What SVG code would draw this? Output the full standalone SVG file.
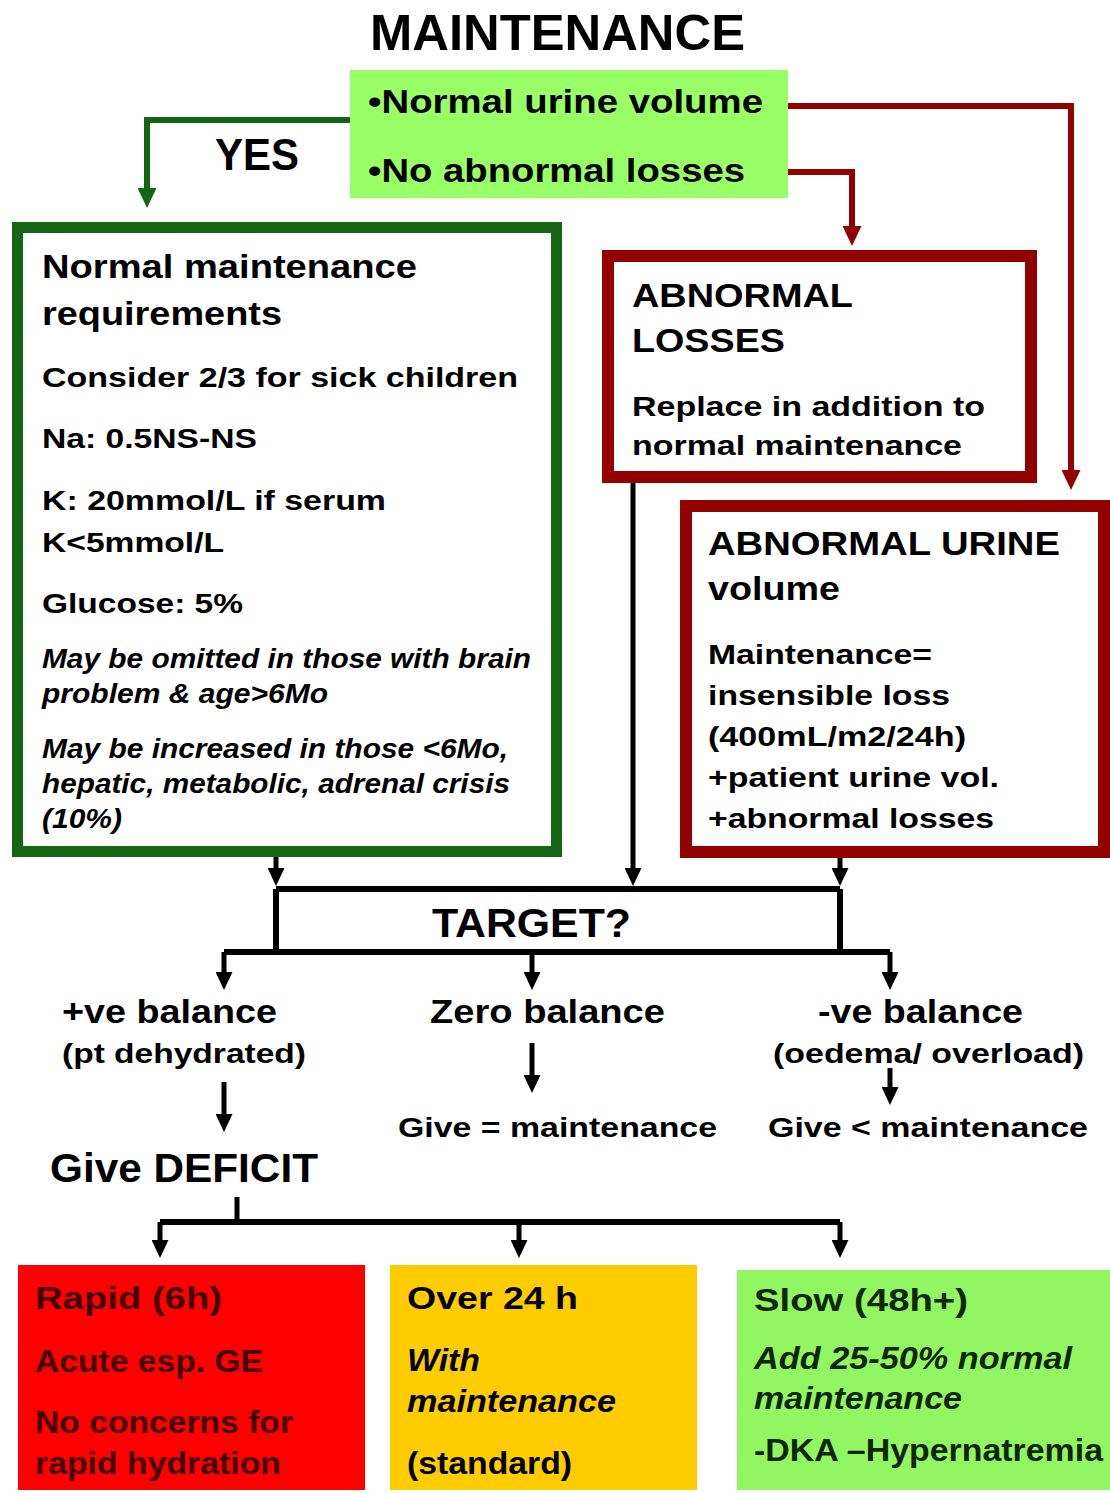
<svg xmlns="http://www.w3.org/2000/svg" width="1110" height="1493" viewBox="0 0 1110 1493">
<style>
text{font-family:"Liberation Sans",Arial,sans-serif;font-weight:bold;fill:#000}
.it{font-style:italic}
.t50{font-size:50px}.t44{font-size:44px}.t40{font-size:40px}.t34{font-size:34px}.t33{font-size:33px}.t32{font-size:32px}.t28{font-size:28px}.t27{font-size:27px}
.k{stroke:#000;stroke-width:5;fill:none}
.kb{stroke:#000;stroke-width:6;fill:none}
.g{stroke:#146614;stroke-width:6;fill:none}
.r{stroke:#930000;stroke-width:6;fill:none}
.rt{fill:#420000}
.gt{fill:#0d2600}
</style>
<defs>
<marker id="ak" viewBox="0 0 18 17" refX="2" refY="8.5" markerWidth="18" markerHeight="17" markerUnits="userSpaceOnUse" orient="auto"><path d="M0,0 L18,8.5 L0,17 z" fill="#000"/></marker>
<marker id="ag" viewBox="0 0 20 19" refX="2" refY="9.5" markerWidth="20" markerHeight="19" markerUnits="userSpaceOnUse" orient="auto"><path d="M0,0 L20,9.5 L0,19 z" fill="#146614"/></marker>
<marker id="ar" viewBox="0 0 20 19" refX="2" refY="9.5" markerWidth="20" markerHeight="19" markerUnits="userSpaceOnUse" orient="auto"><path d="M0,0 L20,9.5 L0,19 z" fill="#930000"/></marker>
</defs>
<rect width="1110" height="1493" fill="#fff"/>

<g id="title"><text class="t50" x="370" y="50" textLength="375" lengthAdjust="spacingAndGlyphs">MAINTENANCE</text></g>

<g id="connectors">
<path class="g" d="M352,120 H147 V190" marker-end="url(#ag)"/>
<path class="r" d="M788,106 H1071 V472" marker-end="url(#ar)"/>
<path class="r" d="M788,172 H852 V228" marker-end="url(#ar)"/>
<path class="k" d="M276,857 V870" marker-end="url(#ak)"/>
<path class="k" d="M633,483 V870" marker-end="url(#ak)"/>
<path class="k" d="M840,857 V870" marker-end="url(#ak)"/>
<path class="kb" d="M276,889 H840 M276,889 V952 M840,889 V952 M224,952 H890"/>
<path class="k" d="M224,952 V974" marker-end="url(#ak)"/>
<path class="k" d="M532,952 V974" marker-end="url(#ak)"/>
<path class="k" d="M890,952 V974" marker-end="url(#ak)"/>
<path class="k" d="M224,1082 V1116" marker-end="url(#ak)"/>
<path class="k" d="M532,1043 V1077" marker-end="url(#ak)"/>
<path class="k" d="M890,1068 V1089" marker-end="url(#ak)"/>
<path class="k" d="M237,1197 V1222"/>
<path class="kb" d="M160,1222 H840"/>
<path class="k" d="M160,1222 V1242" marker-end="url(#ak)"/>
<path class="k" d="M519,1222 V1242" marker-end="url(#ak)"/>
<path class="k" d="M840,1222 V1242" marker-end="url(#ak)"/>
<text class="t44" x="215" y="170" textLength="84" lengthAdjust="spacingAndGlyphs">YES</text>
<text class="t40" x="432" y="937" textLength="199" lengthAdjust="spacingAndGlyphs">TARGET?</text>
</g>

<g id="maintenance-check">
<rect x="350" y="70" width="438" height="128" fill="#99FF66"/>
<text class="t34" x="368" y="113" textLength="395" lengthAdjust="spacingAndGlyphs">•Normal urine volume</text>
<text class="t34" x="368" y="182" textLength="377" lengthAdjust="spacingAndGlyphs">•No abnormal losses</text>
</g>

<g id="normal-maintenance">
<rect x="17.5" y="227.5" width="539" height="624" fill="#fff" stroke="#146614" stroke-width="11"/>
<text class="t33" x="42" y="278" textLength="375" lengthAdjust="spacingAndGlyphs">Normal maintenance</text>
<text class="t33" x="42" y="325" textLength="240" lengthAdjust="spacingAndGlyphs">requirements</text>
<text class="t28" x="42" y="387" textLength="476" lengthAdjust="spacingAndGlyphs">Consider 2/3 for sick children</text>
<text class="t28" x="42" y="448" textLength="215" lengthAdjust="spacingAndGlyphs">Na: 0.5NS-NS</text>
<text class="t28" x="42" y="510" textLength="344" lengthAdjust="spacingAndGlyphs">K: 20mmol/L if serum</text>
<text class="t28" x="42" y="552" textLength="182" lengthAdjust="spacingAndGlyphs">K&lt;5mmol/L</text>
<text class="t28" x="42" y="613" textLength="201" lengthAdjust="spacingAndGlyphs">Glucose: 5%</text>
<text class="t27 it" x="42" y="668" textLength="489" lengthAdjust="spacingAndGlyphs">May be omitted in those with brain</text>
<text class="t27 it" x="42" y="703" textLength="286" lengthAdjust="spacingAndGlyphs">problem &amp; age&gt;6Mo</text>
<text class="t27 it" x="42" y="758" textLength="466" lengthAdjust="spacingAndGlyphs">May be increased in those &lt;6Mo,</text>
<text class="t27 it" x="42" y="793" textLength="468" lengthAdjust="spacingAndGlyphs">hepatic, metabolic, adrenal crisis</text>
<text class="t27 it" x="42" y="828" textLength="80" lengthAdjust="spacingAndGlyphs">(10%)</text>
</g>

<g id="abnormal-losses">
<rect x="608" y="256" width="423" height="221" fill="#fff" stroke="#930000" stroke-width="12"/>
<text class="t33" x="632" y="307" textLength="221" lengthAdjust="spacingAndGlyphs">ABNORMAL</text>
<text class="t33" x="632" y="352" textLength="153" lengthAdjust="spacingAndGlyphs">LOSSES</text>
<text class="t28" x="632" y="416" textLength="353" lengthAdjust="spacingAndGlyphs">Replace in addition to</text>
<text class="t28" x="632" y="455" textLength="330" lengthAdjust="spacingAndGlyphs">normal maintenance</text>
</g>

<g id="abnormal-urine">
<rect x="686" y="506" width="418" height="346" fill="#fff" stroke="#930000" stroke-width="12"/>
<text class="t33" x="708" y="555" textLength="352" lengthAdjust="spacingAndGlyphs">ABNORMAL URINE</text>
<text class="t33" x="708" y="600" textLength="132" lengthAdjust="spacingAndGlyphs">volume</text>
<text class="t28" x="708" y="664" textLength="224" lengthAdjust="spacingAndGlyphs">Maintenance=</text>
<text class="t28" x="708" y="705" textLength="242" lengthAdjust="spacingAndGlyphs">insensible loss</text>
<text class="t28" x="708" y="746" textLength="258" lengthAdjust="spacingAndGlyphs">(400mL/m2/24h)</text>
<text class="t28" x="708" y="787" textLength="291" lengthAdjust="spacingAndGlyphs">+patient urine vol.</text>
<text class="t28" x="708" y="828" textLength="286" lengthAdjust="spacingAndGlyphs">+abnormal losses</text>
</g>

<g id="positive-balance">
<text class="t34" x="62" y="1023" textLength="215" lengthAdjust="spacingAndGlyphs">+ve balance</text>
<text class="t28" x="62" y="1063" textLength="244" lengthAdjust="spacingAndGlyphs">(pt dehydrated)</text>
</g>
<g id="zero-balance">
<text class="t34" x="430" y="1023" textLength="235" lengthAdjust="spacingAndGlyphs">Zero balance</text>
</g>
<g id="negative-balance">
<text class="t34" x="818" y="1023" textLength="205" lengthAdjust="spacingAndGlyphs">-ve balance</text>
<text class="t28" x="773" y="1063" textLength="311" lengthAdjust="spacingAndGlyphs">(oedema/ overload)</text>
</g>
<g id="give-equal"><text class="t28" x="398" y="1137" textLength="319" lengthAdjust="spacingAndGlyphs">Give = maintenance</text></g>
<g id="give-less"><text class="t28" x="768" y="1137" textLength="320" lengthAdjust="spacingAndGlyphs">Give &lt; maintenance</text></g>
<g id="give-deficit"><text class="t40" x="50" y="1182" textLength="268" lengthAdjust="spacingAndGlyphs">Give DEFICIT</text></g>

<g id="rapid">
<rect x="18" y="1265" width="347" height="225" fill="#FF0000"/>
<text class="t32 rt" x="35" y="1309" textLength="187" lengthAdjust="spacingAndGlyphs">Rapid (6h)</text>
<text class="t32 rt" x="35" y="1372" textLength="228" lengthAdjust="spacingAndGlyphs">Acute esp. GE</text>
<text class="t32 rt" x="35" y="1433" textLength="258" lengthAdjust="spacingAndGlyphs">No concerns for</text>
<text class="t32 rt" x="35" y="1474" textLength="246" lengthAdjust="spacingAndGlyphs">rapid hydration</text>
</g>

<g id="over24">
<rect x="390" y="1265" width="307" height="225" fill="#FFCC00"/>
<text class="t32" x="407" y="1309" textLength="171" lengthAdjust="spacingAndGlyphs">Over 24 h</text>
<text class="t32 it" x="407" y="1371" textLength="73" lengthAdjust="spacingAndGlyphs">With</text>
<text class="t32 it" x="407" y="1412" textLength="209" lengthAdjust="spacingAndGlyphs">maintenance</text>
<text class="t32" x="407" y="1474" textLength="165" lengthAdjust="spacingAndGlyphs">(standard)</text>
</g>

<g id="slow">
<rect x="737" y="1270" width="373" height="220" fill="#92F562"/>
<text class="t32 gt" x="754" y="1311" textLength="214" lengthAdjust="spacingAndGlyphs">Slow (48h+)</text>
<text class="t32 it gt" x="754" y="1369" textLength="318" lengthAdjust="spacingAndGlyphs">Add 25-50% normal</text>
<text class="t32 it gt" x="754" y="1409" textLength="208" lengthAdjust="spacingAndGlyphs">maintenance</text>
<text class="t32 gt" x="754" y="1461" textLength="349" lengthAdjust="spacingAndGlyphs">-DKA –Hypernatremia</text>
</g>
</svg>
